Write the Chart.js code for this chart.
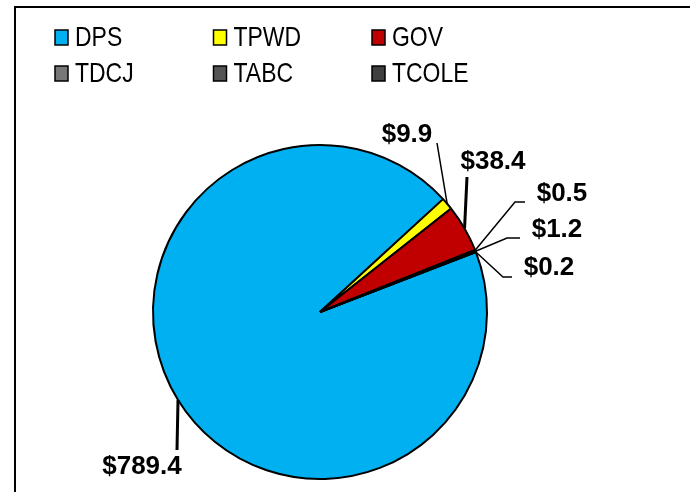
<!DOCTYPE html>
<html lang="en">
<head>
    <meta charset="UTF-8">
    <title>Pie Chart</title>
    <script src="https://cdn.jsdelivr.net/npm/chart.js"></script>
    <style>
        body { margin: 0; background: #fff; }
        #wrap { position: relative; width: 690px; height: 492px; }
    </style>
</head>
<body>
    <div id="wrap"><canvas id="pieChart" width="690" height="492"></canvas></div>

    <script>
        // Chart data
        const agencies = ['DPS', 'TPWD', 'GOV', 'TDCJ', 'TABC', 'TCOLE'];
        const amounts = [789.4, 9.9, 38.4, 0.5, 1.2, 0.2];
        const sliceColors = ['#00B0F0', '#FFFF00', '#C00000', '#777777', '#555555', '#3F3F3F'];

        // Label placement relative to the pie centre: text centre, optional elbow, line end, line width
        const labelSpots = [
            { text: [-178, 155], end: [-143, 138], lw: 3 },
            { text: [87, -177], end: [117, -169], lw: 1.5 },
            { text: [173, -150], end: [147, -135], lw: 3 },
            { text: [242, -118], elbow: [195, -110], end: [205, -110], lw: 1.5 },
            { text: [237, -82], elbow: [187, -74], end: [200, -74], lw: 1.5 },
            { text: [229, -44], elbow: [183, -35], end: [192, -35], lw: 1.5 }
        ];

        const legendFont = '28px "Liberation Sans", Arial, sans-serif';
        const labelFont = 'bold 26px "Liberation Sans", Arial, sans-serif';

        // Frame, legend grid and leader-line labels
        const extrasPlugin = {
            id: 'extras',
            beforeDraw(chart) {
                const ctx = chart.ctx;
                ctx.save();
                ctx.fillStyle = '#fff';
                ctx.fillRect(0, 0, chart.width, chart.height);
                ctx.strokeStyle = '#000';
                ctx.lineWidth = 2;
                ctx.strokeRect(15, 7, chart.width + 10, chart.height + 10);
                ctx.restore();
            },
            afterDraw(chart) {
                const ctx = chart.ctx;
                const meta = chart.getDatasetMeta(0);

                // legend: 3 columns, 2 rows (text squeezed like a narrow face)
                ctx.save();
                ctx.font = legendFont;
                ctx.textBaseline = 'middle';
                ctx.textAlign = 'left';
                agencies.forEach((name, i) => {
                    const col = i % 3, row = Math.floor(i / 3);
                    const bx = 55 + col * 158.5, by = 37 + row * 36;
                    ctx.fillStyle = sliceColors[i];
                    ctx.fillRect(bx, by - 7, 13, 15);
                    ctx.lineWidth = 1.5;
                    ctx.strokeStyle = '#000';
                    ctx.strokeRect(bx, by - 7, 13, 15);
                    ctx.fillStyle = '#000';
                    ctx.save();
                    ctx.translate(bx + 20, by + 1);
                    ctx.scale(0.82, 1);
                    ctx.fillText(name, 0, 0);
                    ctx.restore();
                });
                ctx.restore();

                // data labels with leader lines
                ctx.save();
                ctx.font = labelFont;
                ctx.textAlign = 'center';
                ctx.textBaseline = 'middle';
                ctx.strokeStyle = '#000';
                ctx.fillStyle = '#000';
                meta.data.forEach((arc, i) => {
                    const spot = labelSpots[i];
                    const mid = (arc.startAngle + arc.endAngle) / 2;
                    const sx = arc.x + Math.cos(mid) * arc.outerRadius;
                    const sy = arc.y + Math.sin(mid) * arc.outerRadius;
                    ctx.lineWidth = spot.lw;
                    ctx.beginPath();
                    ctx.moveTo(sx, sy);
                    if (spot.elbow) ctx.lineTo(arc.x + spot.elbow[0], arc.y + spot.elbow[1]);
                    ctx.lineTo(arc.x + spot.end[0], arc.y + spot.end[1]);
                    ctx.stroke();
                    ctx.fillText('$' + amounts[i].toFixed(1), arc.x + spot.text[0], arc.y + spot.text[1]);
                });
                ctx.restore();
            }
        };

        const ctx = document.getElementById('pieChart').getContext('2d');
        const pieChart = new Chart(ctx, {
            type: 'pie',
            data: {
                labels: agencies,
                datasets: [{
                    data: amounts,
                    backgroundColor: sliceColors,
                    borderColor: '#000',
                    borderWidth: 2
                }]
            },
            options: {
                responsive: false,
                animation: false,
                rotation: 69,
                layout: { padding: { left: 152, right: 202, top: 144, bottom: 12 } },
                plugins: {
                    legend: { display: false },
                    tooltip: { enabled: false }
                }
            },
            plugins: [extrasPlugin]
        });
    </script>
</body>
</html>
